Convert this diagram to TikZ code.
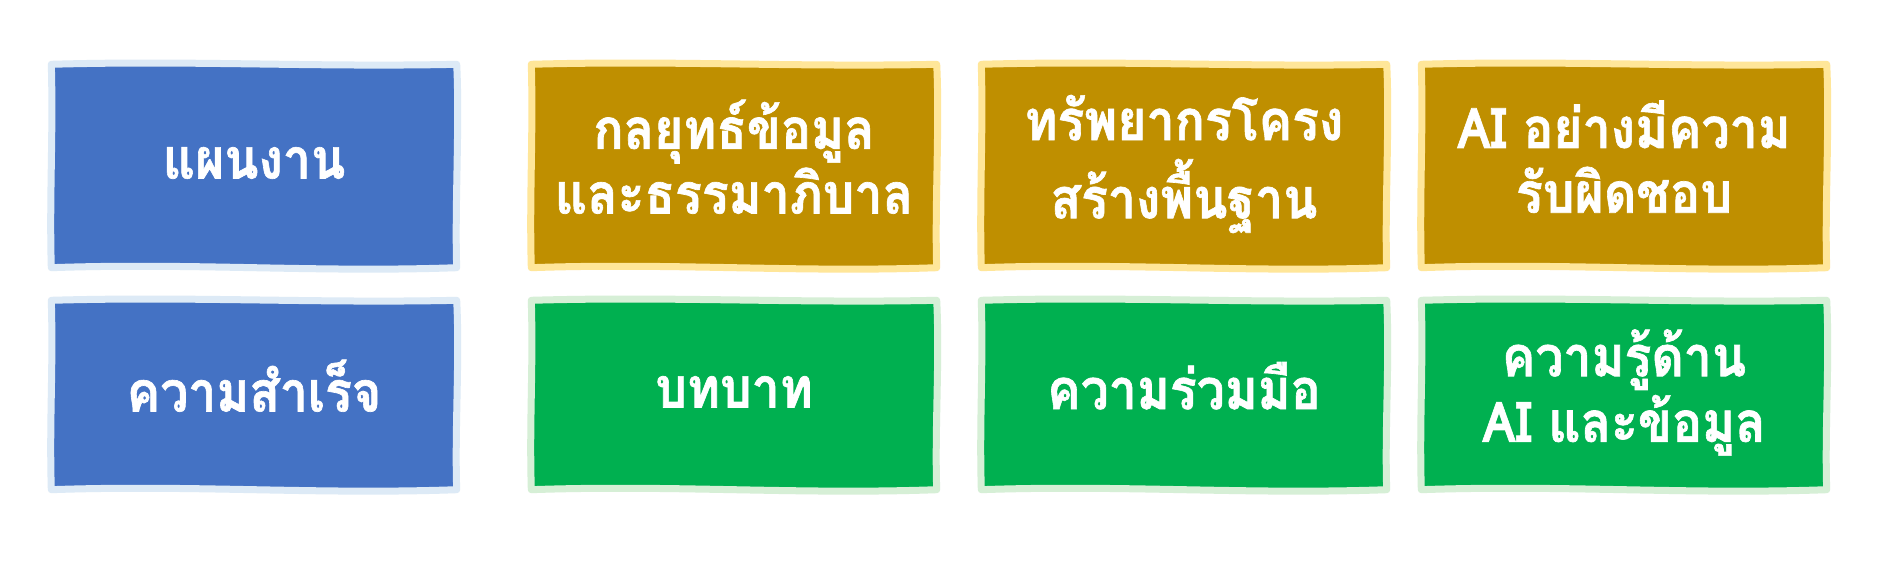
\documentclass[tikz,border=0pt]{standalone}
\usepackage{fontspec}
\newfontfamily\thaifont[Script=Thai, BoldFeatures={FakeBold=1.2}]{Loma}
\usetikzlibrary{backgrounds}
\definecolor{cblue}{HTML}{4472C4}
\definecolor{cgold}{HTML}{BF8F00}
\definecolor{cgreen}{HTML}{00B050}
\definecolor{lblue}{HTML}{DDEAF6}
\definecolor{lgold}{HTML}{FFE699}
\definecolor{lgreen}{HTML}{D6EFD6}
\newcommand\stretchtext[1]{\scalebox{1}[1.12]{\begin{tabular}{@{}c@{}}#1\end{tabular}}}
\newcommand\cardbg[3]{%
  \path[fill=#2, draw=#3, cardedge]
  (#1.north west) .. controls +(140,4) and +(-140,-3) .. (#1.north east)
  .. controls +(3,-60) and +(-2,60) .. (#1.south east)
  .. controls +(-140,-5) and +(140,5) .. (#1.south west)
  .. controls +(-2,70) and +(2,-70) .. (#1.north west) -- cycle;}
\tikzset{
  x=1pt, y=1pt,
  card/.style={rectangle, minimum width=405pt, inner sep=0pt,
    text=white, align=center,
    font=\thaifont\bfseries\fontsize{50}{56}\selectfont},
  topcard/.style={card, minimum height=203pt},
  botcard/.style={card, minimum height=189pt},
  cardedge/.style={line width=7pt, line join=round},
}
\begin{document}
\begin{tikzpicture}
\useasboundingbox (0,0) rectangle (1899,560);
\node[topcard] (plan)  at (254,394)  {\stretchtext{แผนงาน}};
\node[topcard] (strat) at (734,394)  {\stretchtext{กลยุทธ์ข้อมูล\\และธรรมาภิบาล}};
\node[topcard] (infra) at (1184,394) {\stretchtext{ทรัพยากรโครง\\สร้างพื้นฐาน}};
\node[topcard] (resp)  at (1624,394) {\stretchtext{AI อย่างมีความ\\รับผิดชอบ}};
\node[botcard] (succ)  at (254,165)  {\stretchtext{ความสำเร็จ}};
\node[botcard] (role)  at (734,165)  {\stretchtext{บทบาท}};
\node[botcard] (coop)  at (1184,165) {\stretchtext{ความร่วมมือ}};
\node[botcard] (lit)   at (1624,165) {\stretchtext{ความรู้ด้าน\\AI และข้อมูล}};
\begin{scope}[on background layer]
\fill[white] (0,0) rectangle (1899,560);
\cardbg{plan}{cblue}{lblue}
\cardbg{strat}{cgold}{lgold}
\cardbg{infra}{cgold}{lgold}
\cardbg{resp}{cgold}{lgold}
\cardbg{succ}{cblue}{lblue}
\cardbg{role}{cgreen}{lgreen}
\cardbg{coop}{cgreen}{lgreen}
\cardbg{lit}{cgreen}{lgreen}
\end{scope}
\end{tikzpicture}
\end{document}
